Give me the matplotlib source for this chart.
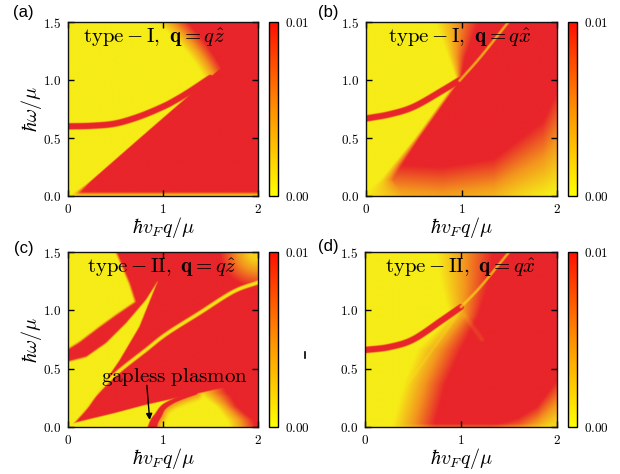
import numpy as np
import matplotlib
matplotlib.use('Agg')
import matplotlib.pyplot as plt
from matplotlib.colors import LinearSegmentedColormap, Normalize
from matplotlib.cm import ScalarMappable
from matplotlib.ticker import FixedLocator, FuncFormatter
from matplotlib.lines import Line2D

plt.rcParams['mathtext.fontset'] = 'cm'

# ---------------- text / ticks ----------------
x_ticks = [0, 1, 2]
y_ticks = [0.0, 0.5, 1.0, 1.5]
cbar_ticks = [0.00, 0.01]
panel_labels = ['(a)', '(b)', '(c)', '(d)']
panel_titles = [r'$\mathrm{type}-\mathrm{I},\ \mathbf{q}=q\hat{z}$',
                r'$\mathrm{type}-\mathrm{I},\ \mathbf{q}=q\hat{x}$',
                r'$\mathrm{type}-\mathrm{II},\ \mathbf{q}=q\hat{z}$',
                r'$\mathrm{type}-\mathrm{II},\ \mathbf{q}=q\hat{x}$']
xlabel = r'$\hbar v_F q/\mu$'
ylabel = r'$\hbar\omega/\mu$'
annot_text = r'$\mathrm{gapless\ plasmon}$'

# ---------------- features ----------------
# (a) type-I, q || z
a_edge_y = [0.0, 0.5, 1.0, 1.5]
a_edge_x = [0.06, 0.757, 1.46, 2.15]
a_plasmon = [(0.0, 0.60), (0.25, 0.605), (0.5, 0.625), (0.75, 0.685),
             (1.0, 0.77), (1.15, 0.835), (1.3, 0.91), (1.5, 1.02)]

# (b) type-I, q || x
b_edge_y = [0.0, 0.14, 0.5, 1.0, 1.2, 1.5]
b_edge_x0 = [-0.05, 0.15, 0.51, 0.95, 0.86, 0.72]
b_edge_x1 = [0.40, 0.28, 0.56, 0.99, 1.04, 1.18]
b_low_x = [0.0, 0.3, 0.8, 1.34, 1.86, 2.0]
b_low_y0 = [-0.1, -0.15, -0.2, -0.15, 0.0, 0.05]
b_low_y1 = [0.3, 0.27, 0.25, 0.32, 0.65, 0.9]
b_plasmon = [(0.0, 0.668), (0.25, 0.705), (0.5, 0.77), (0.8, 0.91), (1.0, 1.01)]
b_thin = [(0.98, 0.995), (1.2, 1.2), (1.49, 1.5)]

# (c) type-II, q || z
c_tl_lower_x = [0.0, 0.12, 0.33, 0.5, 0.68, 0.75]
c_tl_lower_y = [0.67, 0.73, 0.86, 0.96, 1.06, 1.10]
c_tl_right_y = [1.0, 1.09, 1.23, 1.5]
c_tl_right_x = [0.72, 0.70, 0.645, 0.505]
c_wedge_x = [0.0, 0.19, 0.40, 0.61, 0.82, 0.94]
c_wedge_y = [0.56, 0.60, 0.72, 0.89, 1.09, 1.245]
c_obl_y = [0.0, 0.06, 0.32, 0.57, 0.86, 1.245]
c_obl_x = [0.04, 0.084, 0.33, 0.54, 0.75, 0.94]
c_curve = [(0.07, 0.06), (0.19, 0.17), (0.3, 0.29), (0.51, 0.46), (0.82, 0.66),
           (1.04, 0.8), (1.39, 0.98), (1.74, 1.16), (2.0, 1.24)]
c_stair_x = [0.0, 0.07, 0.5, 0.8, 1.1, 1.39, 1.6, 2.0]
c_stair_y = [0.0, 0.035, 0.12, 0.185, 0.24, 0.29, 0.33, 0.4]
c_diag_y = [0.0, 0.06, 0.175, 0.26, 0.29, 0.4]
c_diag_x0 = [1.70, 1.67, 1.56, 1.42, 1.37, 1.30]
c_diag_x1 = [1.98, 1.95, 1.78, 1.72, 1.68, 1.60]
c_gap = [(0.89, 0.0), (0.91, 0.05), (0.95, 0.1), (1.0, 0.165), (1.08, 0.21),
         (1.18, 0.245), (1.35, 0.29)]

# (d) type-II, q || x
d_edge_y = [0.0, 0.37, 0.66, 0.95, 1.2, 1.5]
d_edge_x0 = [0.28, 0.40, 0.54, 0.88, 0.80, 0.74]
d_edge_x1 = [0.72, 0.84, 1.00, 1.18, 1.28, 1.34]
d_low_x = [1.3, 1.6, 1.8, 2.0]
d_low_y0 = [-0.2, -0.15, -0.05, 0.05]
d_low_y1 = [0.0, 0.08, 0.18, 0.4]
d_plasmon = [(0.0, 0.66), (0.25, 0.685), (0.5, 0.75), (0.8, 0.915), (1.0, 1.03)]
d_thin = [(1.0, 1.03), (1.2, 1.2), (1.5, 1.5)]
d_faint = [(0.12, 0.0), (1.0, 1.0)]
d_wedge = [(1.0, 1.0), (1.22, 0.75)]

# ---------------- field helpers ----------------
SX, SY = 95.0, 116.7   # pixels per unit on the axes
nx, ny = 500, 375
xg = np.linspace(0, 2, nx)
yg = np.linspace(0, 1.5, ny)
X, Y = np.meshgrid(xg, yg)


def ramp(t):
    t = np.clip(t, 0, 1)
    return t * t * (3 - 2 * t)


def lin(t):
    return np.clip(t, 0, 1)


def smooth_path(pts, n=12):
    P = np.asarray(pts, float)
    if len(P) < 3:
        return P
    Q = np.vstack([2 * P[0] - P[1], P, 2 * P[-1] - P[-2]])
    out = []
    for i in range(1, len(Q) - 2):
        p0, p1, p2, p3 = Q[i - 1], Q[i], Q[i + 1], Q[i + 2]
        for t in np.linspace(0, 1, n, endpoint=False):
            out.append(0.5 * ((2 * p1) + (-p0 + p2) * t
                              + (2 * p0 - 5 * p1 + 4 * p2 - p3) * t * t
                              + (-p0 + 3 * p1 - 3 * p2 + p3) * t ** 3))
    out.append(P[-1])
    return np.array(out)


def poly_dist(pts):
    P = smooth_path(pts)
    d = np.full(X.shape, np.inf)
    px, py = X * SX, Y * SY
    for (x1, y1), (x2, y2) in zip(P[:-1], P[1:]):
        ax_, ay_ = x1 * SX, y1 * SY
        vx, vy = (x2 - x1) * SX, (y2 - y1) * SY
        L = vx * vx + vy * vy
        if L == 0:
            continue
        t = np.clip(((px - ax_) * vx + (py - ay_) * vy) / L, 0, 1)
        d = np.minimum(d, np.hypot(px - ax_ - t * vx, py - ay_ - t * vy))
    return d


def band(d, core, soft):
    return ramp((core + soft - d) / soft)


# (a)
def field_a():
    w = 2.0 + 10.0 * np.clip(1 - Y / 0.12, 0, 1)
    cont = ramp((X - np.interp(Y, a_edge_y, a_edge_x)) * SX / w + 0.5)
    circ = lin((np.hypot(X, Y) - 1.76) / 0.2)
    v = np.maximum(cont, circ)
    v = v * (0.2 + 0.8 * ramp(Y / 0.04))
    pl = band(poly_dist(a_plasmon), 2.5, 1.5)
    return np.maximum(v, pl)


# (b)
def field_b():
    x0 = np.interp(Y, b_edge_y, b_edge_x0)
    x1 = np.interp(Y, b_edge_y, b_edge_x1)
    left = lin((X - x0) / (x1 - x0))
    y0 = np.interp(X, b_low_x, b_low_y0)
    y1 = np.interp(X, b_low_x, b_low_y1)
    low = lin((Y - y0) / (y1 - y0))
    v = left * low
    v = np.maximum(v, band(poly_dist(b_plasmon), 2.5, 1.5))
    v = v * (1 - 0.6 * band(poly_dist(b_thin), 0.6, 1.3))
    return v


# (c)
def field_c():
    tl = np.minimum(ramp((Y - np.interp(X, c_tl_lower_x, c_tl_lower_y)) * SY / 4 + 0.5),
                    ramp((np.interp(Y, c_tl_right_y, c_tl_right_x) - X) * SX / 4 + 0.5))
    ll = np.minimum(ramp((np.interp(X, c_wedge_x, c_wedge_y) - Y) * SY / 3 + 0.5),
                    ramp((np.interp(Y, c_obl_y, c_obl_x) - X) * SX / 2 + 0.5))
    below = ramp((np.interp(X, c_stair_x, c_stair_y) - Y) * SY / 1.5 + 0.5)
    dx0 = np.interp(Y, c_diag_y, c_diag_x0)
    dx1 = np.interp(Y, c_diag_y, c_diag_x1)
    right = 1 - lin((X - dx0) / (dx1 - dx0))
    bot = below * right
    yel = np.maximum(np.maximum(tl, ll), bot)
    v = 1 - yel
    v = v * (1 - 0.95 * band(poly_dist(c_curve), 0.8, 2.0))
    dc = np.hypot((X - 2) / 0.4, (Y - 1.5) / 0.3)
    v = v * (0.15 + 0.85 * lin((dc - 0.2) / 0.8))
    # gapless plasmon
    dg = poly_dist(c_gap)
    core = 0.8 + 3.2 * np.clip(1 - Y / 0.3, 0, 1)
    gb = band(dg, core, 1.5)
    gx = np.interp(Y, [p[1] for p in c_gap], [p[0] for p in c_gap])
    halo = 0.45 * band(dg, core, 8.0) * (X > gx) * (Y < 0.3)
    v = np.maximum(v, np.maximum(gb, halo))
    return v


# (d)
def field_d():
    x0 = np.interp(Y, d_edge_y, d_edge_x0)
    x1 = np.interp(Y, d_edge_y, d_edge_x1)
    v = lin((X - x0) / (x1 - x0))
    y0 = np.interp(X, d_low_x, d_low_y0)
    y1 = np.interp(X, d_low_x, d_low_y1)
    v = v * (0.15 + 0.85 * lin((Y - y0) / (y1 - y0)))
    v = v * (0.75 + 0.25 * ramp(Y / 0.03))
    v = v * (1 - 0.25 * band(poly_dist(d_faint), 0.5, 1.5))
    v = v * (1 - 0.1 * band(poly_dist(d_wedge), 0.5, 3.0))
    v = np.maximum(v, band(poly_dist(d_plasmon), 2.5, 1.5))
    v = v * (1 - 0.6 * band(poly_dist(d_thin), 0.6, 1.3))
    return v


fields = [field_a(), field_b(), field_c(), field_d()]

# ---------------- colours ----------------
field_cmap = LinearSegmentedColormap.from_list(
    'field', [(0.0, '#f6ec17'), (0.5, '#f3961e'), (1.0, '#e8252a')])
cbar_cmap = LinearSegmentedColormap.from_list(
    'cbar', [(0.0, '#ffff00'), (0.5, '#ff9000'), (1.0, '#ff1000')])
norm = Normalize(vmin=0.0, vmax=0.01)

# ---------------- layout ----------------
W, H = 620, 474
fig = plt.figure(figsize=(6.2, 4.74), dpi=100)


def fr(l, t, r, b):
    return [l / W, 1 - b / H, (r - l) / W, (b - t) / H]


ax_boxes = [(68, 22, 258, 196), (366, 22, 557, 196), (68, 252, 258, 427), (365, 252, 557, 427)]
cb_boxes = [(269, 22, 278, 196), (568, 22, 577, 196), (269, 252, 278, 427), (568, 252, 577, 427)]
lab_pos = [(13, 13), (318, 13), (14, 249), (318, 247)]
title_x = [0.079, 0.115, 0.10, 0.104]

for i in range(4):
    ax = fig.add_axes(fr(*ax_boxes[i]))
    ax.imshow(fields[i] * 0.01, origin='lower', extent=[0, 2, 0, 1.5], aspect='auto',
              cmap=field_cmap, norm=norm, interpolation='bilinear')
    ax.set_xlim(0, 2)
    ax.set_ylim(0, 1.5)
    ax.xaxis.set_major_locator(FixedLocator(x_ticks))
    ax.yaxis.set_major_locator(FixedLocator(y_ticks))
    ax.xaxis.set_major_formatter(FuncFormatter(lambda v, p: '$%d$' % round(v)))
    ax.yaxis.set_major_formatter(FuncFormatter(lambda v, p: '$%.1f$' % v))
    ax.tick_params(direction='in', length=4, width=1, top=True, right=True,
                   labelsize=9.5, pad=5, colors='k')
    for s in ax.spines.values():
        s.set_linewidth(1.0)
        s.set_color('#111111')
    ax.text(title_x[i], 0.91, panel_titles[i], transform=ax.transAxes,
            fontsize=15, ha='left', va='center')
    l, t, r, b = ax_boxes[i]
    fig.text(lab_pos[i][0] / W, 1 - lab_pos[i][1] / H, panel_labels[i],
             fontsize=12, family='Liberation Sans', ha='left', va='center')
    fig.text((l + r) / 2 / W, 1 - (b + 19) / H, xlabel, fontsize=14.5,
             ha='center', va='top')
    if i in (0, 2):
        fig.text(31 / W, 1 - (t + b) / 2 / H, ylabel, fontsize=14.5,
                 ha='center', va='center', rotation=90)

    cax = fig.add_axes(fr(*cb_boxes[i]))
    cb = fig.colorbar(ScalarMappable(norm=norm, cmap=cbar_cmap), cax=cax, ticks=cbar_ticks)
    cb.ax.yaxis.set_major_formatter(FuncFormatter(lambda v, p: '$%.2f$' % v))
    cb.ax.tick_params(length=0, labelsize=9.5, pad=5)
    cb.outline.set_linewidth(1.0)

    if i == 2:
        ax.text(1.12, 0.43, annot_text, fontsize=15, ha='center', va='center')
        ax.annotate('', xy=(0.86, 0.06), xytext=(0.83, 0.357),
                    arrowprops=dict(arrowstyle='-|>', color='k', lw=1.0,
                                    mutation_scale=9, shrinkA=0, shrinkB=0))

fig.add_artist(Line2D([305 / W, 305 / W], [1 - 352 / H, 1 - 358 / H],
                      transform=fig.transFigure, color='k', lw=1.2))

fig.savefig('out.png', dpi=100)
